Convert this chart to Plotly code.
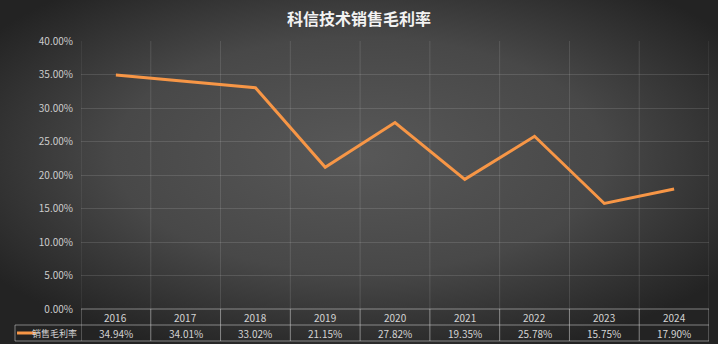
import base64
import plotly.graph_objects as go

years = ["2016", "2017", "2018", "2019", "2020", "2021", "2022", "2023", "2024"]
margin_pct = [34.94, 34.01, 33.02, 21.15, 27.82, 19.35, 25.78, 15.75, 17.90]
series_name = "销售毛利率"
title_text = "科信技术销售毛利率"
y_ticks = [0, 5, 10, 15, 20, 25, 30, 35, 40]

W, H = 718, 344
ML, MR, MT, MB = 81, 9, 41, 35
plot_w = W - ML - MR
plot_h = H - MT - MB
row = 16 / plot_h  # one table row in paper units

svg = f'''<svg xmlns="http://www.w3.org/2000/svg" width="{W}" height="{H}">
<defs><radialGradient id="g" cx="50%" cy="45%" r="62%">
<stop offset="0%" stop-color="#585858"/><stop offset="55%" stop-color="#484848"/>
<stop offset="100%" stop-color="#232323"/></radialGradient></defs>
<rect width="100%" height="100%" fill="url(#g)"/></svg>'''
bg = "data:image/svg+xml;base64," + base64.b64encode(svg.encode()).decode()

fig = go.Figure()
fig.add_trace(go.Scatter(
    x=years, y=[v / 100 for v in margin_pct], mode="lines", name=series_name,
    line=dict(color="#F79646", width=3), showlegend=False,
    hovertemplate="%{x}: %{y:.2%}<extra></extra>"))

shapes, annotations = [], []
grid = "rgba(255,255,255,0.12)"
tbl = "rgba(210,210,210,0.55)"
txt = "#d4d4d4"
n = len(years)
# vertical grid lines at category boundaries through plot + table
for i in range(n + 1):
    xb = i - 0.5
    shapes.append(dict(type="line", xref="x", yref="paper", x0=xb, x1=xb, y0=0, y1=1,
                       line=dict(color=grid, width=1), layer="below"))
    shapes.append(dict(type="line", xref="x", yref="paper", x0=xb, x1=xb, y0=0, y1=-2 * row,
                       line=dict(color=tbl, width=1)))
# table horizontal lines
for k in range(3):
    shapes.append(dict(type="line", xref="x", yref="paper", x0=-0.5, x1=n - 0.5,
                       y0=-k * row, y1=-k * row, line=dict(color=tbl, width=1)))
# legend cell
lx = -66 / plot_w
shapes.append(dict(type="line", xref="paper", yref="paper", x0=lx, x1=0,
                   y0=-row, y1=-row, line=dict(color=tbl, width=1)))
shapes.append(dict(type="line", xref="paper", yref="paper", x0=lx, x1=0,
                   y0=-2 * row, y1=-2 * row, line=dict(color=tbl, width=1)))
shapes.append(dict(type="line", xref="paper", yref="paper", x0=lx, x1=lx,
                   y0=-row, y1=-2 * row, line=dict(color=tbl, width=1)))
shapes.append(dict(type="line", xref="paper", yref="paper", x0=-64 / plot_w, x1=-45 / plot_w,
                   y0=-1.5 * row, y1=-1.5 * row, line=dict(color="#F79646", width=3)))
annotations.append(dict(xref="paper", yref="paper", x=-2 / plot_w, y=-1.5 * row, text=series_name,
                        showarrow=False, xanchor="right", yanchor="middle",
                        font=dict(size=9, color=txt)))
for i, (yr, v) in enumerate(zip(years, margin_pct)):
    annotations.append(dict(xref="x", yref="paper", x=i, y=-0.5 * row, text=yr, showarrow=False,
                            yanchor="middle", font=dict(size=10, color=txt)))
    annotations.append(dict(xref="x", yref="paper", x=i, y=-1.5 * row, text=f"{v:.2f}%",
                            showarrow=False, yanchor="middle", font=dict(size=10, color=txt)))

fig.update_layout(
    width=W, height=H, margin=dict(l=ML, r=MR, t=MT, b=MB),
    paper_bgcolor="#3a3a3a", plot_bgcolor="rgba(0,0,0,0)",
    images=[dict(source=bg, xref="paper", yref="paper", x=-ML / plot_w,
                 y=1 + MT / plot_h, sizex=W / plot_w, sizey=H / plot_h,
                 sizing="stretch", layer="below", xanchor="left", yanchor="top")],
    title=dict(text=f"<b>{title_text}</b>", x=0.5, xref="container", xanchor="center",
               y=1 - 19 / H, yanchor="middle",
               font=dict(size=16, color="#f2f2f2", family="Noto Sans CJK SC")),
    font=dict(family="Noto Sans CJK SC, Noto Sans, sans-serif", color=txt, size=10),
    xaxis=dict(type="category", range=[-0.5, n - 0.5], showticklabels=False, showgrid=False,
               zeroline=False, showline=False, ticks=""),
    yaxis=dict(range=[0, 0.4], tickvals=[t / 100 for t in y_ticks], tickformat=".2%",
               showgrid=True, gridcolor=grid, gridwidth=1, zeroline=False, showline=False,
               ticks="", ticklabelstandoff=7, tickfont=dict(size=10, color="#cccccc")),
    shapes=shapes, annotations=annotations,
)
fig.write_html("out.html")
